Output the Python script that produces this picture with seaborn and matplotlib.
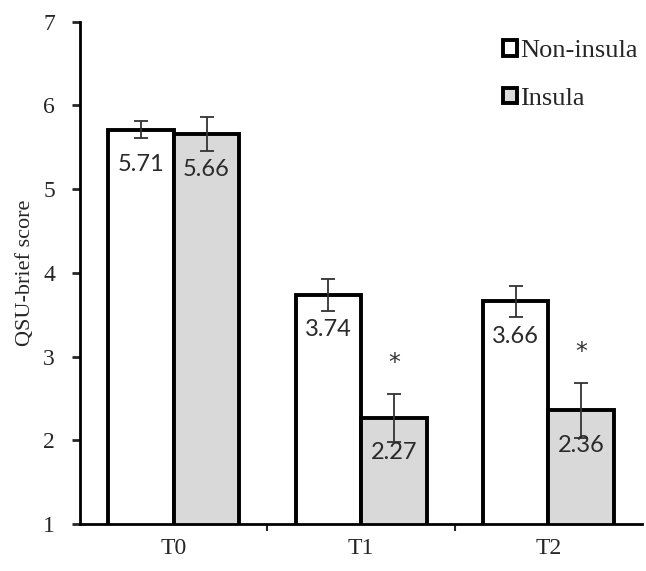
import pandas as pd
import numpy as np
import matplotlib.pyplot as plt
import seaborn as sns
from matplotlib.patches import Patch

# values
times = ['T0', 'T1', 'T2']
groups = ['Non-insula', 'Insula']
non_insula = [5.71, 3.74, 3.66]
insula = [5.66, 2.27, 2.36]
non_insula_err = [0.10, 0.19, 0.19]
insula_err = [0.20, 0.29, 0.33]
signif = ['', '*', '*']

df = pd.DataFrame({
    'time': times * 2,
    'group': [groups[0]] * 3 + [groups[1]] * 3,
    'score': non_insula + insula,
    'err': non_insula_err + insula_err,
})

sns.set_style('white')
plt.rcParams['font.family'] = ['Liberation Serif', 'DejaVu Serif']

fig = plt.figure(figsize=(6.46, 5.71), dpi=100)
ax = fig.add_axes([0.124, 0.082, 0.87, 0.880])

colors = {'Non-insula': 'white', 'Insula': '#d9d9d9'}
sns.barplot(data=df, x='time', y='score', hue='group', palette=colors,
            errorbar=None, width=0.70, edgecolor='black', linewidth=2.8,
            saturation=1, legend=False, ax=ax)

# error bars and labels from the bars seaborn drew
bars = ax.patches
for bar, (_, row) in zip(bars, df.iterrows()):
    cx = bar.get_x() + bar.get_width() / 2
    ax.errorbar(cx, row['score'], yerr=row['err'], fmt='none', ecolor='#333333',
                elinewidth=1.3, capsize=4.7, capthick=1.3, zorder=5)
    ax.text(cx, row['score'] - 0.42, f"{row['score']:.2f}", ha='center', va='center',
            fontsize=17, family=['Lato', 'DejaVu Sans'], color='#2a2a2a', zorder=6)

ins = df[df['group'] == 'Insula'].reset_index(drop=True)
for i, s in enumerate(signif):
    if s:
        ax.text(i + 0.175, ins.loc[i, 'score'] + ins.loc[i, 'err'] + 0.22, s,
                ha='center', va='bottom', fontsize=17, family=['DejaVu Sans'],
                color='#333333')

ax.set_ylim(1, 7)
ax.set_xlim(-0.5, 2.5)
ax.set_yticks(range(1, 8))
ax.set_ylabel('QSU-brief score', fontsize=16, labelpad=6)
ax.set_xlabel('')
ax.tick_params(axis='y', labelsize=17, direction='out', length=6, width=2, left=True, pad=12)
ax.tick_params(axis='x', which='major', labelsize=17, length=0, pad=10)
ax.set_xticks([0.5, 1.5], minor=True)
ax.tick_params(axis='x', which='minor', direction='out', length=5, width=1.5, bottom=True)

sns.despine(ax=ax)
for sp in ['left', 'bottom']:
    ax.spines[sp].set_linewidth(2)
    ax.spines[sp].set_color('black')

handles = [Patch(facecolor=colors[g], edgecolor='black', linewidth=2.8) for g in groups]
ax.legend(handles, groups, loc='upper right', frameon=False, fontsize=19,
          handlelength=0.55, handleheight=0.55, handletextpad=0.12, labelspacing=0.95,
          borderaxespad=0.3, bbox_to_anchor=(1.025, 1.0))

fig.savefig('out.png', dpi=100)
